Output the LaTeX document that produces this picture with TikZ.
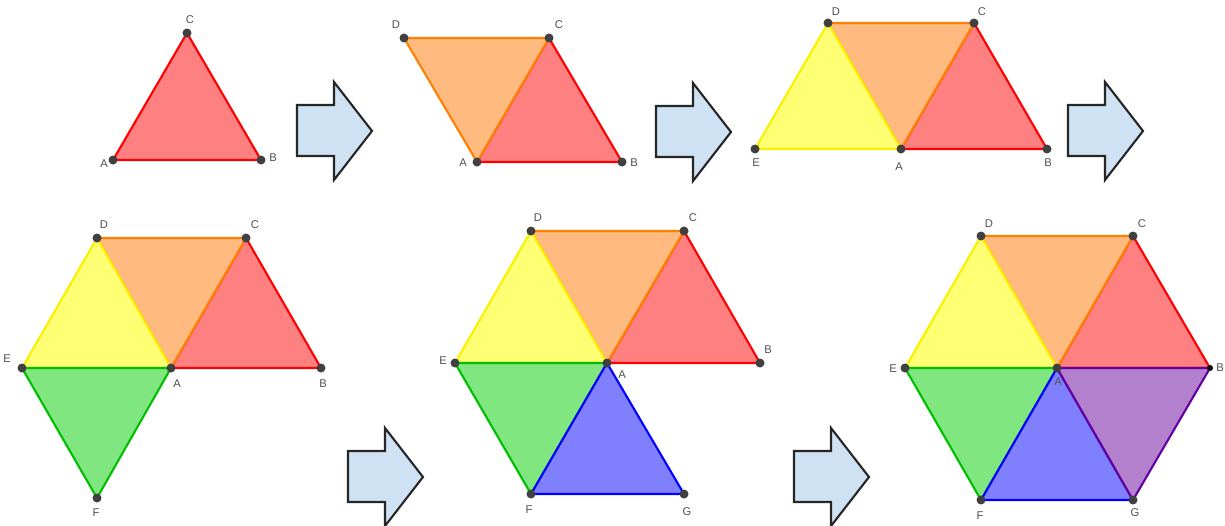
\documentclass[tikz,border=0pt]{standalone}
\usepackage{fontspec}
\setmainfont{Liberation Sans}
\usetikzlibrary{positioning, backgrounds}

\definecolor{redF}{RGB}{255,128,128}
\definecolor{redE}{RGB}{255,0,0}
\definecolor{orangeF}{RGB}{255,186,128}
\definecolor{orangeE}{RGB}{255,128,0}
\definecolor{yellowF}{RGB}{255,255,115}
\definecolor{yellowE}{RGB}{250,240,0}
\definecolor{greenF}{RGB}{128,230,128}
\definecolor{greenE}{RGB}{0,190,0}
\definecolor{blueF}{RGB}{128,128,255}
\definecolor{blueE}{RGB}{0,0,255}
\definecolor{purpleF}{RGB}{178,128,204}
\definecolor{purpleE}{RGB}{100,0,160}
\definecolor{ptgray}{RGB}{64,64,64}
\definecolor{lblgray}{RGB}{80,80,80}
\definecolor{arrowblue}{RGB}{207,226,243}

% filled triangle: fill, edge, three vertex nodes
\newcommand{\ctri}[5]{\filldraw[fill=#1, draw=#2, line width=1.2pt, line join=round] (#3.center) -- (#4.center) -- (#5.center) -- cycle;}

\begin{document}
\begin{tikzpicture}[x=0.02cm, y=-0.02cm,
        pt/.style={circle, fill=ptgray, inner sep=0pt, minimum size=0.18cm},
        lbl/.style={font=\fontsize{6.4}{7}\selectfont, text=lblgray, inner sep=0pt},
        pics/nextarrow/.style={code={
            \draw[fill=arrowblue, draw=black!85, line width=1.2pt, line join=miter]
                (0,23) -- (37,23) -- (37,0) -- (75,49) -- (37,98) -- (37,74) -- (0,74) -- cycle;}}]
    \useasboundingbox (0,0) rectangle (1225,525);

    % panel 1
    \node[pt] (A1) at (113,160) {};
    \node[pt] (B1) at (261,160) {};
    \node[pt] (C1) at (187,33) {};
    \node[lbl] (lA1) at (104,164) {A};
    \node[lbl] (lB1) at (273,158) {B};
    \node[lbl] (lC1) at (190,20) {C};

    % panel 2
    \node[pt] (A2) at (477,162) {};
    \node[pt] (B2) at (622,162) {};
    \node[pt] (C2) at (549,38) {};
    \node[pt] (D2) at (404,38) {};
    \node[lbl] (lA2) at (463,163) {A};
    \node[lbl] (lB2) at (634,163) {B};
    \node[lbl] (lC2) at (559,25) {C};
    \node[lbl] (lD2) at (396,25) {D};

    % panel 3
    \node[pt] (A3) at (901,149) {};
    \node[pt] (B3) at (1047,149) {};
    \node[pt] (C3) at (974,23) {};
    \node[pt] (D3) at (828,23) {};
    \node[pt] (E3) at (755,149) {};
    \node[lbl] (lA3) at (899,167) {A};
    \node[lbl] (lB3) at (1048,163) {B};
    \node[lbl] (lC3) at (982,12) {C};
    \node[lbl] (lD3) at (836,12) {D};
    \node[lbl] (lE3) at (756,163) {E};

    % panel 4
    \node[pt] (A4) at (171,368) {};
    \node[pt] (B4) at (321,368) {};
    \node[pt] (C4) at (246,238) {};
    \node[pt] (D4) at (97,238) {};
    \node[pt] (E4) at (22,368) {};
    \node[pt] (F4) at (97,498) {};
    \node[lbl] (lA4) at (177,384) {A};
    \node[lbl] (lB4) at (323,384) {B};
    \node[lbl] (lC4) at (255,225) {C};
    \node[lbl] (lD4) at (104,225) {D};
    \node[lbl] (lE4) at (7,359) {E};
    \node[lbl] (lF4) at (96,513) {F};

    % panel 5
    \node[pt] (A5) at (607,363) {};
    \node[pt] (B5) at (760,363) {};
    \node[pt] (C5) at (684,231) {};
    \node[pt] (D5) at (531,231) {};
    \node[pt] (E5) at (455,363) {};
    \node[pt] (F5) at (531,494) {};
    \node[pt] (G5) at (684,494) {};
    \node[lbl] (lA5) at (622,375) {A};
    \node[lbl] (lB5) at (768,350) {B};
    \node[lbl] (lC5) at (693,218) {C};
    \node[lbl] (lD5) at (538,218) {D};
    \node[lbl] (lE5) at (443,361) {E};
    \node[lbl] (lF5) at (529,510) {F};
    \node[lbl] (lG5) at (687,512) {G};

    % panel 6
    \node[pt] (A6) at (1057,368) {};
    \node[pt, fill=black, minimum size=0.12cm] (B6) at (1210,368) {};
    \node[pt] (C6) at (1133,236) {};
    \node[pt] (D6) at (981,236) {};
    \node[pt] (E6) at (905,368) {};
    \node[pt] (F6) at (981,500) {};
    \node[pt] (G6) at (1133,500) {};
    \node[lbl] (lA6) at (1058,382) {A};
    \node[lbl] (lB6) at (1220,368) {B};
    \node[lbl] (lC6) at (1142,224) {C};
    \node[lbl] (lD6) at (989,224) {D};
    \node[lbl] (lE6) at (893,369) {E};
    \node[lbl] (lF6) at (980,516) {F};
    \node[lbl] (lG6) at (1135,513) {G};

    \begin{scope}[on background layer]
        \ctri{redF}{redE}{A1}{B1}{C1}

        \ctri{redF}{redE}{A2}{B2}{C2}
        \ctri{orangeF}{orangeE}{A2}{C2}{D2}

        \ctri{redF}{redE}{A3}{B3}{C3}
        \ctri{orangeF}{orangeE}{A3}{C3}{D3}
        \ctri{yellowF}{yellowE}{A3}{D3}{E3}

        \ctri{redF}{redE}{A4}{B4}{C4}
        \ctri{orangeF}{orangeE}{A4}{C4}{D4}
        \ctri{yellowF}{yellowE}{A4}{D4}{E4}
        \ctri{greenF}{greenE}{A4}{E4}{F4}

        \ctri{redF}{redE}{A5}{B5}{C5}
        \ctri{orangeF}{orangeE}{A5}{C5}{D5}
        \ctri{yellowF}{yellowE}{A5}{D5}{E5}
        \ctri{greenF}{greenE}{A5}{E5}{F5}
        \ctri{blueF}{blueE}{A5}{F5}{G5}

        \ctri{redF}{redE}{A6}{B6}{C6}
        \ctri{orangeF}{orangeE}{A6}{C6}{D6}
        \ctri{yellowF}{yellowE}{A6}{D6}{E6}
        \ctri{greenF}{greenE}{A6}{E6}{F6}
        \ctri{blueF}{blueE}{A6}{F6}{G6}
        \ctri{purpleF}{purpleE}{A6}{G6}{B6}
    \end{scope}

    % arrows between the steps
    \pic at (297,82) {nextarrow};
    \pic at (656,83) {nextarrow};
    \pic at (1068,82) {nextarrow};
    \pic at (348,428) {nextarrow};
    \pic at (794,428) {nextarrow};
\end{tikzpicture}
\end{document}
